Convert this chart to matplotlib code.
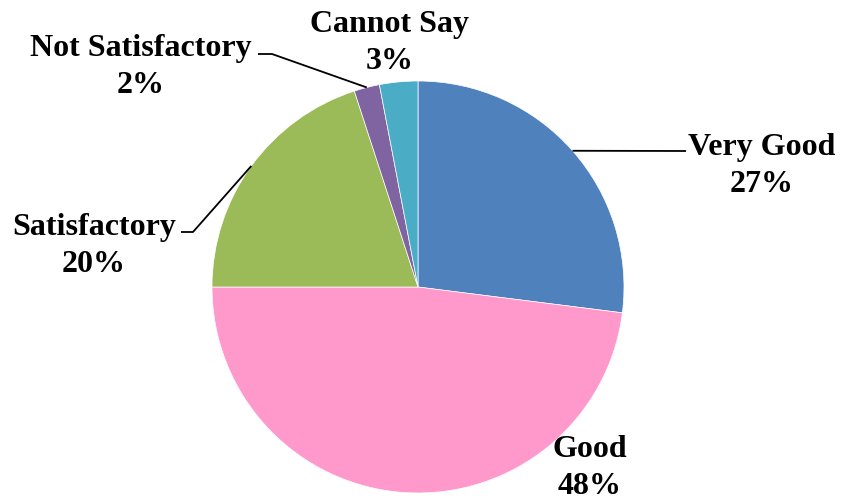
import numpy as np
import matplotlib.pyplot as plt

# data
categories = ["Very Good", "Good", "Satisfactory", "Not Satisfactory", "Cannot Say"]
shares = [27, 48, 20, 2, 3]
colors = ["#4F81BD", "#FF99CC", "#9BBB59", "#8064A2", "#4BACC6"]

# label block centres (pixel coords, y from top) and leader elbows
label_pos = {
    "Very Good": (762, 166),
    "Good": (590, 468),
    "Satisfactory": (94, 246),
    "Not Satisfactory": (141, 67),
    "Cannot Say": (390, 43),
}
leader_end = {
    "Very Good": [(686, 152)],
    "Satisfactory": [(193, 233), (181, 233)],
    "Not Satisfactory": [(272, 55), (258, 55)],
}

W, H = 843, 502
cx, cy, R = 418, H - 288, 206

fig = plt.figure(figsize=(W / 100, H / 100), dpi=100)
ax = fig.add_axes([0, 0, 1, 1])
ax.axis("off")

wedges, _ = ax.pie(shares, colors=colors, startangle=90, counterclock=False,
                   center=(cx, cy), radius=R,
                   wedgeprops=dict(edgecolor="white", linewidth=0.5))
ax.set_xlim(0, W)
ax.set_ylim(0, H)
ax.set_aspect("equal")

font = dict(family="Liberation Serif", fontweight="bold", fontsize=23)

for w, cat, val in zip(wedges, categories, shares):
    x, y = label_pos[cat]
    ax.text(x, H - y, f"{cat}\n{val}%", ha="center", va="center",
            linespacing=1.38, **font)
    if cat in leader_end:
        ang = np.deg2rad((w.theta1 + w.theta2) / 2)
        pts = [(cx + R * np.cos(ang), cy + R * np.sin(ang))]
        pts += [(px, H - py) for px, py in leader_end[cat]]
        xs, ys = zip(*pts)
        ax.plot(xs, ys, color="black", lw=1.3, solid_capstyle="butt")

fig.savefig("out.png", dpi=100)
